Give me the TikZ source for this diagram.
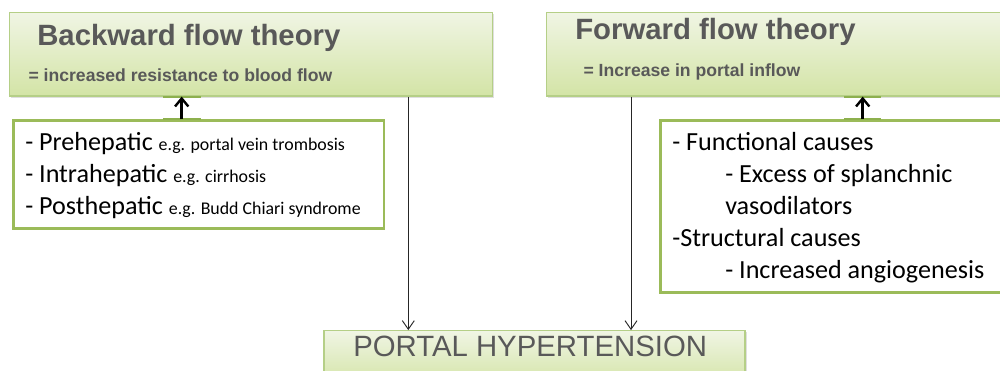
\documentclass[tikz,border=0pt]{standalone}
\usepackage{fontspec}
\usetikzlibrary{arrows.meta,fit,shadows}
\newfontfamily\headfont{Liberation Sans}
\newfontfamily\listfont{Carlito}
\definecolor{boxtop}{HTML}{F0F5E4}
\definecolor{boxbot}{HTML}{D3E4A6}
\definecolor{boxline}{HTML}{B5CF87}
\definecolor{listline}{HTML}{9BBB59}
\definecolor{tabline}{HTML}{8DB04E}
\definecolor{headgray}{HTML}{595959}
\tikzset{
  theorybox/.style={draw=boxline, line width=0.9pt, top color=boxtop, bottom color=boxbot, inner sep=0pt,
    drop shadow={opacity=0.25, shadow xshift=1.2pt, shadow yshift=-1.2pt}},
  listbox/.style={draw=listline, line width=2.2pt, fill=white, inner sep=0pt},
  headtxt/.style={anchor=base west, inner sep=0pt, text=headgray, font=\headfont\bfseries\fontsize{22}{26}\selectfont},
  subtxt/.style={anchor=base west, inner sep=0pt, text=headgray, font=\headfont\bfseries\fontsize{13.2}{16}\selectfont},
  itemtxt/.style={anchor=base west, inner sep=0pt, text=black, font=\listfont\fontsize{19.6}{24}\selectfont},
  conn/.style={draw=black!85, line width=0.7pt, -{Straight Barb[length=6.5pt,width=9pt]}},
  upconn/.style={draw=black, line width=2pt, -{Straight Barb[length=6pt,width=10pt,line width=1.8pt]}},
  tab/.style={draw=tabline, line width=1.6pt}
}
\newcommand{\eg}[1]{{\fontsize{13.4}{16}\selectfont #1}}
\begin{document}
\begin{tikzpicture}[x=0.75pt,y=-0.75pt]
\clip (0,0) rectangle (1000,371);
\useasboundingbox (0,0) rectangle (1000,371);
% theory boxes
\node[theorybox, fit={(9.5,12.3) (492.7,96)}] (back) {};
\node[theorybox, fit={(546.7,12.3) (1012,96)}] (fwd) {};
\node[headtxt] (backt) at (37,45.7) {Backward flow theory};
\node[subtxt] (backs) at (28.3,81.7) {= increased resistance to blood flow};
\node[headtxt] (fwdt) at (575,39.3) {Forward flow theory};
\node[subtxt] (fwds) at (583.3,76) {= Increase in portal inflow};
% list boxes
\node[listbox, fit={(13.3,120.7) (384,228.3)}] (left) {};
\node[listbox, fit={(660.7,120.7) (1012,292.7)}] (right) {};
\node[itemtxt] (l1) at (25,150.7) {- Prehepatic \eg{e.g. portal vein trombosis}};
\node[itemtxt] (l2) at (25,182.7) {- Intrahepatic \eg{e.g. cirrhosis}};
\node[itemtxt] (l3) at (25,214.3) {- Posthepatic \eg{e.g. Budd Chiari syndrome}};
\node[itemtxt] (r1) at (672,150) {- Functional causes};
\node[itemtxt] (r2) at (725,182.7) {- Excess of splanchnic};
\node[itemtxt] (r3) at (725,214) {vasodilators};
\node[itemtxt] (r4) at (672,246.7) {-Structural causes};
\node[itemtxt] (r5) at (725,278) {- Increased angiogenesis};
% portal box
\node[theorybox, drop shadow={opacity=0}, fit={(324,330.7) (745,385)}] (portal) {};
\node[anchor=base west, inner sep=0pt, text=headgray, font=\headfont\fontsize{22}{26}\selectfont] (portalt) at (353,356) {PORTAL HYPERTENSION};
% tabs
\draw[tab] (163,0 |- back.south) -- (201,0 |- back.south);
\draw[tab] (844,0 |- fwd.south) -- (880.7,0 |- fwd.south);
\draw[tab] (163,0 |- left.north) -- (201,0 |- left.north);
\draw[tab] (844,0 |- right.north) -- (880.7,0 |- right.north);
% thick up arrows
\draw[upconn] (181.7,0 |- left.north) -- (181.7,0 |- back.south);
\draw[upconn] (862.7,0 |- right.north) -- (862.7,0 |- fwd.south);
% connectors to portal hypertension
\draw[conn] (408.3,0 |- back.south) -- (408.3,0 |- portal.north);
\draw[conn] (631,0 |- fwd.south) -- (631,0 |- portal.north);
\end{tikzpicture}
\end{document}
